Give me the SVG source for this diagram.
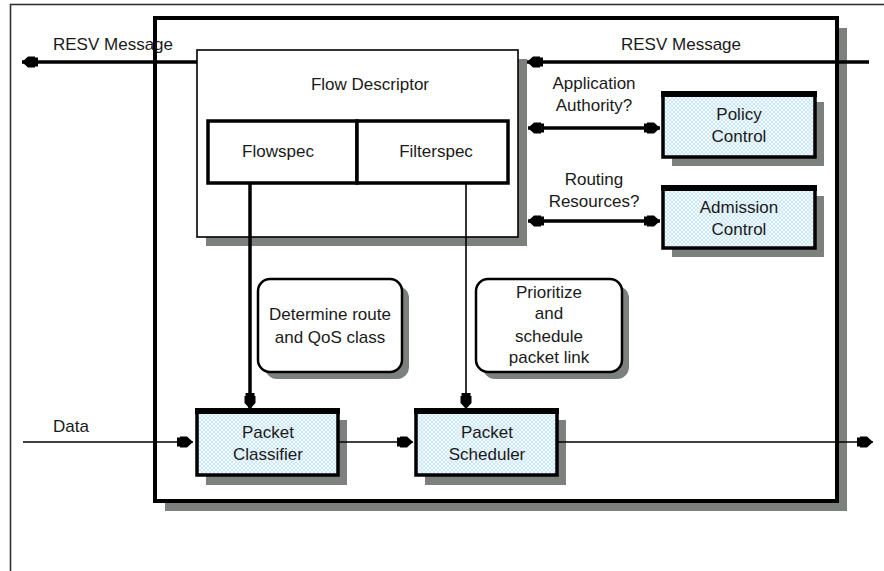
<svg xmlns="http://www.w3.org/2000/svg" width="884" height="571" viewBox="0 0 884 571">
<defs>
<style>
text{font-family:"Liberation Sans",Arial,sans-serif;font-size:17px;fill:#1a1a1a;text-anchor:middle}
.l{text-anchor:start}
.shadow{fill:#7d817d}
.blue{fill:url(#hatch);stroke:#000;stroke-width:3.5}
.top{stroke:#000;stroke-width:6}
.round{fill:#fff;stroke:#000;stroke-width:2.5}
.thick{stroke:#000;stroke-width:3.5;fill:none}
.thin{stroke:#000;stroke-width:1.6;fill:none}
</style>
<pattern id="hatch" width="4" height="4" patternUnits="userSpaceOnUse">
<rect width="4" height="4" fill="#cfe8f6"/>
<path d="M0,0 L4,4 M4,0 L0,4" stroke="#f4fbff" stroke-width="0.9"/>
</pattern>
<marker id="ah" markerUnits="userSpaceOnUse" markerWidth="18" markerHeight="12" refX="16" refY="6" orient="auto-start-reverse" viewBox="0 0 18 12">
<path d="M0,1.5 L3,1.5 L3,0.5 L10,0.5 L16,6 L10,11.5 L3,11.5 L3,10.5 L0,10.5 Z" fill="#000"/>
</marker>
</defs>
<rect width="884" height="571" fill="#fff"/>
<g id="frame">
<rect x="10.5" y="4.5" width="900" height="600" fill="none" stroke="#333" stroke-width="1.6"/>
</g>
<g id="main">
<rect class="shadow" x="165" y="28" width="682" height="483"/>
<rect x="155" y="18" width="682" height="483" fill="#fff" stroke="#000" stroke-width="4"/>
</g>
<g id="flow-descriptor">
<rect class="shadow" x="206" y="59" width="321" height="187"/>
<rect x="197" y="50" width="321" height="187" fill="#fff" stroke="#000" stroke-width="1.6"/>
<text x="370" y="90">Flow Descriptor</text>
</g>
<g id="flowspec">
<rect x="208" y="121" width="149" height="62" fill="#fff" stroke="#000" stroke-width="3.5"/>
<text x="278" y="157">Flowspec</text>
</g>
<g id="filterspec">
<rect x="357" y="121" width="151" height="62" fill="#fff" stroke="#000" stroke-width="3.5"/>
<text x="436" y="157">Filterspec</text>
</g>
<g id="policy-control">
<rect class="shadow" x="672" y="102" width="152" height="64"/>
<rect class="blue" x="663" y="93" width="152" height="64"/>
<line class="top" x1="661" y1="94" x2="817" y2="94"/>
<text x="739" y="120">Policy</text>
<text x="739" y="142">Control</text>
</g>
<g id="admission-control">
<rect class="shadow" x="672" y="196" width="152" height="61"/>
<rect class="blue" x="663" y="187" width="152" height="61"/>
<line class="top" x1="661" y1="188" x2="817" y2="188"/>
<text x="739" y="213">Admission</text>
<text x="739" y="235">Control</text>
</g>
<g id="determine">
<rect class="shadow" x="265" y="286" width="144" height="93" rx="12"/>
<rect class="round" x="258" y="279" width="144" height="93" rx="12"/>
<text x="330" y="320">Determine route</text>
<text x="330" y="343">and QoS class</text>
</g>
<g id="prioritize">
<rect class="shadow" x="483" y="286" width="146" height="93" rx="12"/>
<rect class="round" x="476" y="279" width="146" height="93" rx="12"/>
<text x="549" y="298">Prioritize</text>
<text x="549" y="319">and</text>
<text x="549" y="342">schedule</text>
<text x="549" y="363">packet link</text>
</g>
<g id="packet-classifier">
<rect class="shadow" x="206" y="420" width="141" height="65"/>
<rect class="blue" x="197" y="410" width="141" height="65"/>
<line class="top" x1="195" y1="411" x2="340" y2="411"/>
<text x="268" y="438">Packet</text>
<text x="268" y="460">Classifier</text>
</g>
<g id="packet-scheduler">
<rect class="shadow" x="425" y="420" width="141" height="65"/>
<rect class="blue" x="416" y="410" width="141" height="65"/>
<line class="top" x1="414" y1="411" x2="559" y2="411"/>
<text x="487" y="438">Packet</text>
<text x="487" y="460">Scheduler</text>
</g>
<g id="connectors">
<line class="thick" x1="197" y1="62" x2="22" y2="62" marker-end="url(#ah)"/>
<line class="thick" x1="869" y1="62" x2="527" y2="62" marker-end="url(#ah)"/>
<line class="thick" x1="528" y1="128" x2="660" y2="128" marker-start="url(#ah)" marker-end="url(#ah)"/>
<line class="thick" x1="528" y1="221" x2="660" y2="221" marker-start="url(#ah)" marker-end="url(#ah)"/>
<line class="thick" x1="250" y1="184" x2="250" y2="409" marker-end="url(#ah)"/>
<line class="thin" x1="466" y1="184" x2="466" y2="409" marker-end="url(#ah)"/>
<line class="thin" x1="23" y1="442" x2="193" y2="442" marker-end="url(#ah)"/>
<line class="thin" x1="338" y1="442" x2="413" y2="442" marker-end="url(#ah)"/>
<line class="thin" x1="557" y1="442" x2="873" y2="442" marker-end="url(#ah)"/>
</g>
<g id="labels">
<text class="l" x="53" y="50">RESV Message</text>
<text class="l" x="621" y="50">RESV Message</text>
<text x="594" y="89">Application</text>
<text x="594" y="111">Authority?</text>
<text x="594" y="185">Routing</text>
<text x="594" y="207">Resources?</text>
<text class="l" x="53" y="432">Data</text>
</g>
</svg>
